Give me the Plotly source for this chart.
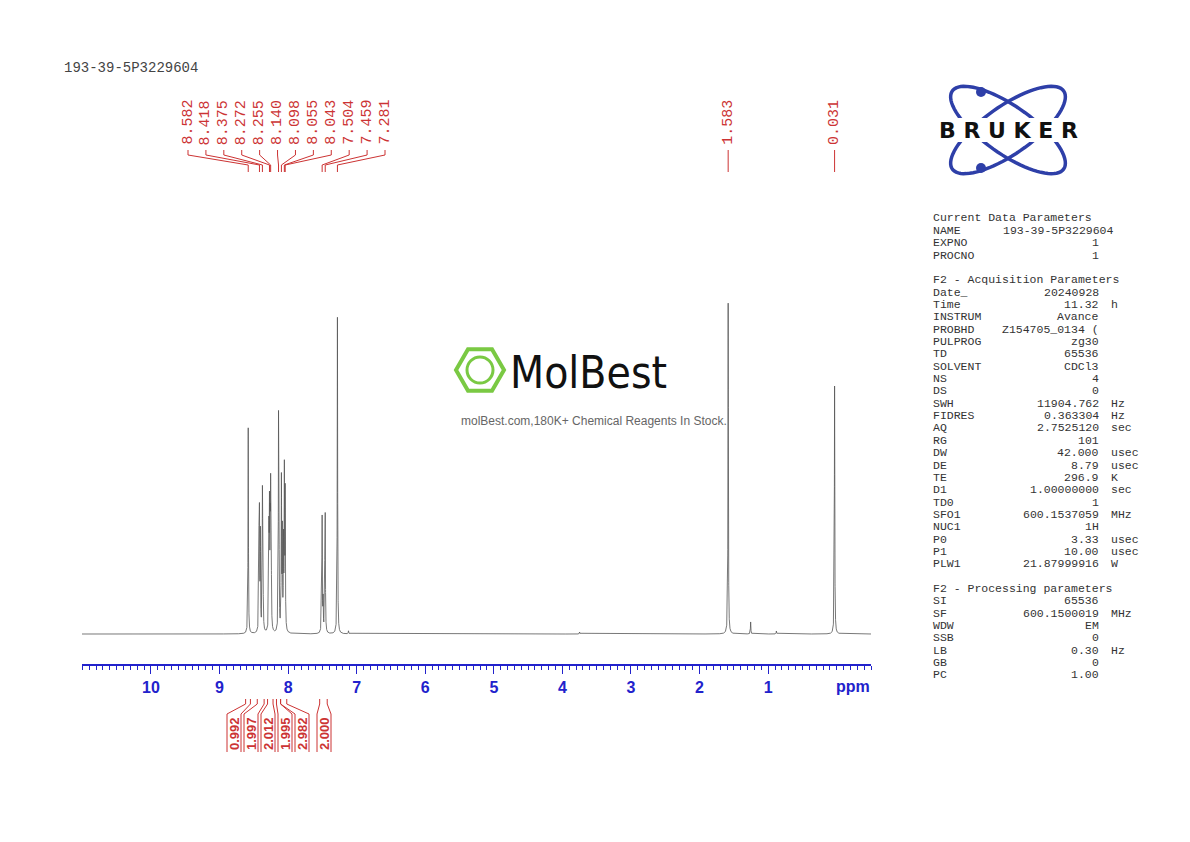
import numpy as np
import plotly.graph_objects as go

W, H = 1190, 842
title = "193-39-5P3229604"

# Peaks (ppm, relative height in plot units)
peak_ppm = [8.582, 8.425, 8.418, 8.405, 8.375, 8.368, 8.280, 8.272, 8.262, 8.255, 8.247, 8.140, 8.132,
            8.098, 8.085, 8.068, 8.055, 8.043, 7.511, 7.504, 7.490, 7.466, 7.459, 7.281, 1.583, 1.255, 0.880,
            0.031, 3.750, 7.120]
peak_h = [206, 90, 105, 95, 125, 100, 100, 110, 85, 122, 90, 210, 70,
          150, 95, 85, 155, 135, 40, 108, 30, 50, 110, 317, 331, 12, 3,
          248, 2, 3]
peak_labels = ["8.582", "8.418", "8.375", "8.272", "8.255", "8.140", "8.098", "8.055", "8.043", "7.504", "7.459", "7.281"]
peak_label_ppm = [8.582, 8.418, 8.375, 8.272, 8.255, 8.140, 8.098, 8.055, 8.043, 7.504, 7.459, 7.281]
single_labels = ["1.583", "0.031"]
single_ppm = [1.583, 0.031]

integral_values = ["0.992", "1.997", "2.012", "1.995", "2.982", "2.000"]
integral_from = [8.62, 8.45, 8.30, 8.17, 8.11, 7.54]
integral_to = [8.55, 8.35, 8.22, 8.11, 8.02, 7.43]

tick_vals = [1, 2, 3, 4, 5, 6, 7, 8, 9, 10]

params = [
    ("Current Data Parameters", "", ""),
    ("NAME", "193-39-5P3229604", ""),
    ("EXPNO", "1", ""),
    ("PROCNO", "1", ""),
    ("", "", ""),
    ("F2 - Acquisition Parameters", "", ""),
    ("Date_", "20240928", ""),
    ("Time", "11.32", "h"),
    ("INSTRUM", "Avance", ""),
    ("PROBHD", "Z154705_0134 (", ""),
    ("PULPROG", "zg30", ""),
    ("TD", "65536", ""),
    ("SOLVENT", "CDCl3", ""),
    ("NS", "4", ""),
    ("DS", "0", ""),
    ("SWH", "11904.762", "Hz"),
    ("FIDRES", "0.363304", "Hz"),
    ("AQ", "2.7525120", "sec"),
    ("RG", "101", ""),
    ("DW", "42.000", "usec"),
    ("DE", "8.79", "usec"),
    ("TE", "296.9", "K"),
    ("D1", "1.00000000", "sec"),
    ("TD0", "1", ""),
    ("SFO1", "600.1537059", "MHz"),
    ("NUC1", "1H", ""),
    ("P0", "3.33", "usec"),
    ("P1", "10.00", "usec"),
    ("PLW1", "21.87999916", "W"),
    ("", "", ""),
    ("F2 - Processing parameters", "", ""),
    ("SI", "65536", ""),
    ("SF", "600.1500019", "MHz"),
    ("WDW", "EM", ""),
    ("SSB", "0", ""),
    ("LB", "0.30", "Hz"),
    ("GB", "0", ""),
    ("PC", "1.00", ""),
]

OFF = 8
X0, X1 = 82, 871
PPM0, PPM1 = 11.006, -0.50
def ppx(p):
    return X0 + (PPM0 - p) / (PPM0 - PPM1) * (X1 - X0)
def fx(px):
    return (px - OFF) / W
def fy(py):
    return 1 - (py - OFF) / H

x = np.linspace(PPM1, PPM0, 40000)
y = np.zeros_like(x)
g = 0.0035
for p, h in zip(peak_ppm, peak_h):
    y += h * g**2 / ((x - p) ** 2 + g**2)

fig = go.Figure()
fig.add_trace(go.Scatter(x=x, y=y, mode="lines", line=dict(color="#555555", width=0.8), hoverinfo="skip"))

shapes, ann = [], []
red = "#cc3333"
mono = "Liberation Mono"

for i, (lab, p) in enumerate(zip(peak_labels, peak_label_ppm)):
    lx = 188 + i * (385 - 188) / (len(peak_labels) - 1)
    ann.append(dict(x=fx(lx), y=fy(147), xref="paper", yref="paper", text=lab, textangle=-90,
                    showarrow=False, xanchor="center", yanchor="bottom",
                    font=dict(family=mono, size=15, color=red)))
    pxp = ppx(p)
    path = f"M{fx(lx)},{fy(150)} L{fx(lx)},{fy(155)} L{fx(pxp)},{fy(165)} L{fx(pxp)},{fy(172)}"
    shapes.append(dict(type="path", path=path, xref="paper", yref="paper", line=dict(color=red, width=1)))
for lab, p in zip(single_labels, single_ppm):
    lx = ppx(p)
    ann.append(dict(x=fx(lx), y=fy(147), xref="paper", yref="paper", text=lab, textangle=-90,
                    showarrow=False, xanchor="center", yanchor="bottom",
                    font=dict(family=mono, size=15, color=red)))
    shapes.append(dict(type="line", x0=fx(lx), x1=fx(lx), y0=fy(150), y1=fy(172), xref="paper", yref="paper",
                       line=dict(color=red, width=1)))

for i, (v, a, b) in enumerate(zip(integral_values, integral_from, integral_to)):
    lx = [234, 251, 268, 285, 302, 324][i]
    ax, bx = ppx(a), ppx(b)
    for sx, ex in ((ax, lx - 7), (bx, lx + 7)):
        path = f"M{fx(sx)},{fy(699)} L{fx(sx)},{fy(704)} L{fx(ex)},{fy(714)} L{fx(ex)},{fy(752)}"
        shapes.append(dict(type="path", path=path, xref="paper", yref="paper", line=dict(color=red, width=1)))
    ann.append(dict(x=fx(lx), y=fy(734), xref="paper", yref="paper", text=f"<b>{v}</b>", textangle=-90,
                    showarrow=False, xanchor="center", yanchor="middle",
                    font=dict(family="Liberation Sans", size=13, color=red)))

ann.append(dict(x=fx(62), y=fy(68), xref="paper", yref="paper", text=title, showarrow=False,
                xanchor="left", yanchor="middle", font=dict(family=mono, size=14, color="#444444")))
ann.append(dict(x=fx(853), y=fy(686), xref="paper", yref="paper", text="<b>ppm</b>", showarrow=False,
                xanchor="center", yanchor="middle", font=dict(family="Liberation Sans", size=16, color="#2222cc")))

for i, (n, v, u) in enumerate(params):
    yy = fy(218 + i * 12.35)
    f = dict(family=mono, size=11.5, color="#333333")
    if n:
        ann.append(dict(x=fx(931), y=yy, xref="paper", yref="paper", text=n, showarrow=False,
                        xanchor="left", yanchor="middle", font=f))
    if v:
        xr = 1116 if n == "NAME" else 1101
        ann.append(dict(x=fx(xr), y=yy, xref="paper", yref="paper", text=v, showarrow=False,
                        xanchor="right", yanchor="middle", font=f))
    if u:
        ann.append(dict(x=fx(1109), y=yy, xref="paper", yref="paper", text=u, showarrow=False,
                        xanchor="left", yanchor="middle", font=f))

blue = "#2e3fa8"
t = np.linspace(0, 2 * np.pi, 80)
for ang in (np.deg2rad(35), np.deg2rad(-35)):
    ex = 68 * np.cos(t); ey = 24 * np.sin(t)
    xs = 1008 + ex * np.cos(ang) - ey * np.sin(ang)
    ys = 130 + ex * np.sin(ang) + ey * np.cos(ang)
    path = "M" + " L".join(f"{fx(a)},{fy(b)}" for a, b in zip(xs, ys)) + " Z"
    shapes.append(dict(type="path", path=path, xref="paper", yref="paper", line=dict(color=blue, width=3.5)))
for cy in (92, 168):
    shapes.append(dict(type="circle", x0=fx(976), x1=fx(986), y0=fy(cy - 5), y1=fy(cy + 5), xref="paper",
                       yref="paper", fillcolor=blue, line=dict(color=blue, width=0)))
shapes.append(dict(type="rect", x0=fx(924), x1=fx(1092), y0=fy(118), y1=fy(142), xref="paper", yref="paper",
                   fillcolor="white", line=dict(width=0), layer="above"))
ann.append(dict(x=fx(1008), y=fy(130), xref="paper", yref="paper", text="<b>B R U K E R</b>", showarrow=False,
                xanchor="center", yanchor="middle", font=dict(family="DejaVu Sans", size=22, color="#111111")))

green = "#7ac943"
hx = 480 + 24 * np.cos(np.linspace(0, 2 * np.pi, 7))
hy = 370 + 24 * np.sin(np.linspace(0, 2 * np.pi, 7))
shapes.append(dict(type="path", path="M" + " L".join(f"{fx(a)},{fy(b)}" for a, b in zip(hx, hy)) + " Z",
                   xref="paper", yref="paper", line=dict(color=green, width=4)))
shapes.append(dict(type="circle", x0=fx(467), x1=fx(493), y0=fy(357), y1=fy(383), xref="paper", yref="paper",
                   line=dict(color=green, width=3)))
ann.append(dict(x=fx(508), y=fy(372), xref="paper", yref="paper", text="MolBest", showarrow=False,
                xanchor="left", yanchor="middle", font=dict(family="DejaVu Sans Condensed", size=44, color="#111111")))
ann.append(dict(x=fx(594), y=fy(421), xref="paper", yref="paper", text="molBest.com,180K+ Chemical Reagents In Stock.",
                showarrow=False, xanchor="center", yanchor="middle", font=dict(family="Liberation Sans", size=12, color="#666666")))

fig.update_layout(
    width=W, height=H, margin=dict(l=0, r=0, t=0, b=0), paper_bgcolor="white", plot_bgcolor="white",
    showlegend=False, shapes=shapes, annotations=ann,
    xaxis=dict(domain=[fx(X0), fx(X1)], range=[PPM0, PPM1], tickvals=tick_vals, ticks="outside", ticklen=8,
               tickcolor="#2222cc", showline=True, linecolor="#2222cc", linewidth=1.5, showgrid=False,
               zeroline=False, tickfont=dict(family="Liberation Sans", size=16, color="#2222cc", weight="bold"),
               minor=dict(dtick=0.1, ticks="outside", ticklen=4, tickcolor="#2222cc")),
    yaxis=dict(domain=[fy(664), fy(200)], range=[-30, 434], visible=False),
)
fig.write_html("out.html")
